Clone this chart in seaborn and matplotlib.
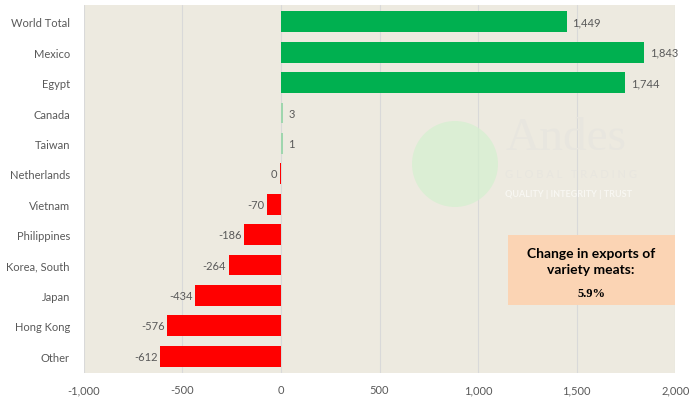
import numpy as np
import pandas as pd
import matplotlib.pyplot as plt
import seaborn as sns
from matplotlib.patches import Ellipse, Rectangle

# データ
countries = ['World Total', 'Mexico', 'Egypt', 'Canada', 'Taiwan', 'Netherlands',
             'Vietnam', 'Philippines', 'Korea, South', 'Japan', 'Hong Kong', 'Other']
changes = [1449, 1843, 1744, 3, 1, 0, -70, -186, -264, -434, -576, -612]
x_ticks = [-1000, -500, 0, 500, 1000, 1500, 2000]
x_tick_labels = ['-1,000', '-500', '0', '500', '1,000', '1,500', '2,000']

df = pd.DataFrame({'Country': countries, 'Change': changes})

sns.set_style('white')
plt.rcParams['font.family'] = ['Lato', 'DejaVu Sans']

# 色分け
palette = {}
for c, v in zip(countries, changes):
    if v >= 100:
        palette[c] = '#00B050'
    elif v > 0:
        palette[c] = '#9FD6AE'
    else:
        palette[c] = '#FF0000'

fig = plt.figure(figsize=(6.99, 4.06), dpi=100)
ax = fig.add_axes([0.120, 0.079, 0.846, 0.906])
ax.set_facecolor('#EDEAE0')

sns.barplot(data=df, y='Country', x='Change', hue='Country', palette=palette,
            order=countries, legend=False, width=0.68, saturation=1,
            linewidth=0, ax=ax, zorder=3)

# 小さい値は最小幅で描画
for i, v in enumerate(changes):
    if abs(v) < 10:
        w = 10 if v > 0 else -6
        ax.barh(i, w, height=0.68, color=palette[countries[i]], linewidth=0, zorder=3)

# 値ラベル
for i, v in enumerate(changes):
    lab = f'{v:,}'
    if v > 0:
        off = max(v, 6) + 30
        ax.text(off, i, lab, va='center', ha='left', fontsize=8, color='#595959', zorder=5)
    else:
        off = min(v, -6) - 15
        ax.text(off, i, lab, va='center', ha='right', fontsize=8, color='#595959', zorder=5)

ax.set_xlim(-1000, 2000)
ax.set_ylim(len(countries) - 0.45, -0.55)
ax.set_xticks(x_ticks)
ax.set_xticklabels(x_tick_labels)
ax.tick_params(axis='both', length=0, labelsize=8, labelcolor='#595959')
ax.tick_params(axis='x', pad=8)
ax.tick_params(axis='y', pad=10)
ax.set_xlabel('')
ax.set_ylabel('')
ax.grid(axis='x', color='#D9D9D9', linewidth=0.8, zorder=0)
ax.set_axisbelow(True)
for s in ax.spines.values():
    s.set_visible(False)

# ウォーターマーク
logo = Ellipse((455 / 699, 1 - 165 / 406), 86 / 699, 86 / 406, transform=fig.transFigure,
               facecolor='#D4F0CF', edgecolor='none', alpha=0.7, zorder=4)
fig.patches.append(logo)
fig.text(505 / 699, 1 - 150 / 406, 'Andes', fontsize=34, family='Liberation Serif',
         color='#E8E6DF', ha='left', va='baseline', zorder=4)
fig.text(505 / 699, 1 - 175 / 406, 'G L O B A L   T R A D I N G', fontsize=8,
         color='#E8E6DF', ha='left', va='center', zorder=4)
fig.text(505 / 699, 1 - 195 / 406, 'QUALITY | INTEGRITY | TRUST', fontsize=6.5,
         color='#F8F7F2', ha='left', va='center', fontweight='bold', zorder=4)

# 注釈ボックス
fig.patches.append(Rectangle((508 / 699, 1 - 306 / 406), 167 / 699, 70 / 406,
                             transform=fig.transFigure, facecolor='#FBD4B4',
                             edgecolor='none', zorder=5))
fig.text(591 / 699, 1 - 262 / 406, 'Change in exports of\nvariety meats:', ha='center',
         va='center', fontsize=10, fontweight='bold', color='#000000', linespacing=1.3, zorder=6)
fig.text(591 / 699, 1 - 294 / 406, '5.9%', ha='center', va='center', fontsize=9,
         fontweight='bold', family='Liberation Serif', color='#000000', zorder=6)

fig.savefig('out.png', dpi=100, facecolor='white')
